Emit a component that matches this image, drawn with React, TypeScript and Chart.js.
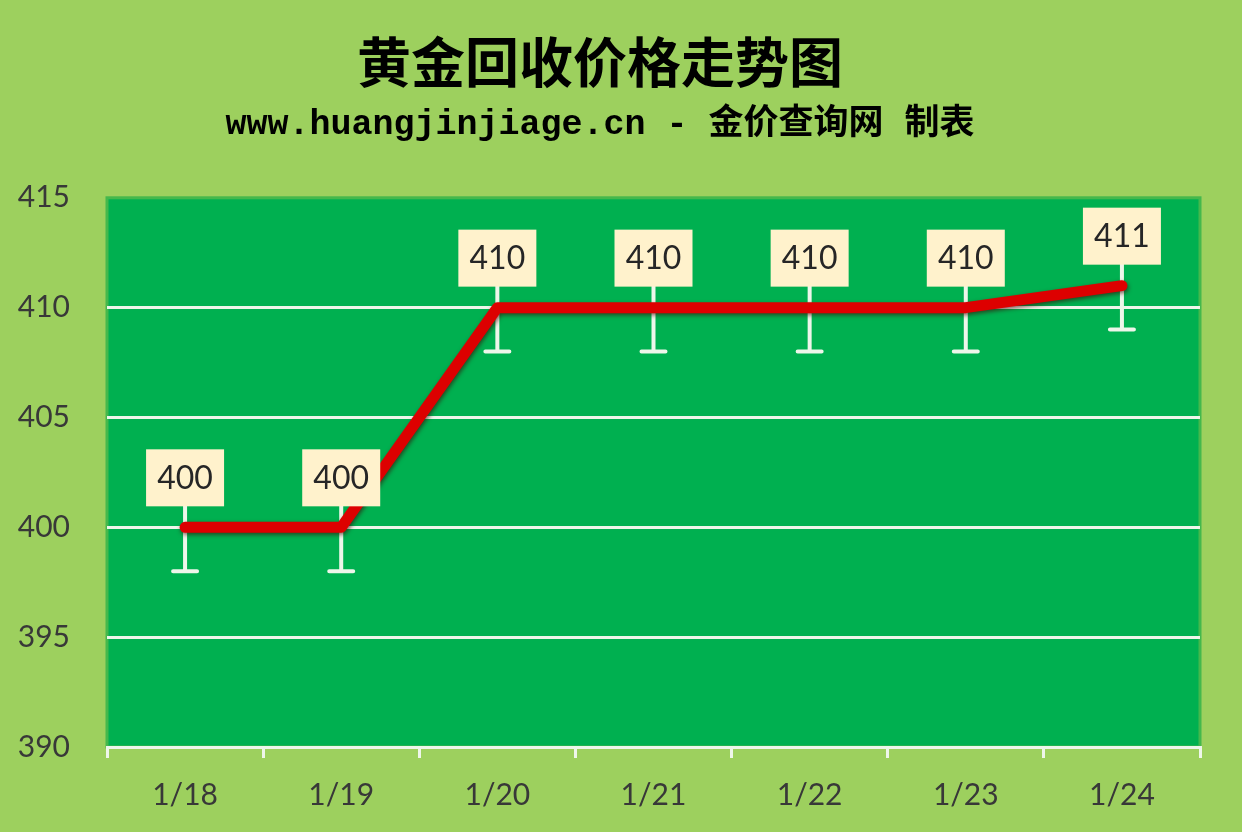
import { useEffect, useRef } from 'react';
import Chart, { ChartConfiguration, Plugin } from 'chart.js/auto';

const dates = ['1/18', '1/19', '1/20', '1/21', '1/22', '1/23', '1/24'];
const prices = [400, 400, 410, 410, 410, 410, 411];
const errorMinus = [2, 2, 2, 2, 2, 2, 2];
const yMin = 390;
const yMax = 415;
const yStep = 5;

const OUTER_BG = '#9DD05E';
const PLOT_BG = '#00B050';
const PLOT_EDGE = '#45B84C';
const WHITE = '#EEF6EA';
const LINE_RED = '#DD0000';
const LABEL_BG = '#FFF2CC';
const TEXT = '#383838';

const plotBackground: Plugin<'line'> = {
  id: 'plotBackground',
  beforeDraw(chart) {
    const { ctx, chartArea: a, width, height } = chart;
    ctx.save();
    ctx.fillStyle = OUTER_BG;
    ctx.fillRect(0, 0, width, height);
    ctx.fillStyle = PLOT_BG;
    ctx.fillRect(a.left, a.top, a.right - a.left, a.bottom - a.top);
    ctx.strokeStyle = PLOT_EDGE;
    ctx.lineWidth = 3;
    ctx.strokeRect(a.left, a.top, a.right - a.left, a.bottom - a.top);
    ctx.restore();
  },
};

// white error bars under the line, with a stem up to the label box
const errorBars: Plugin<'line'> = {
  id: 'errorBars',
  beforeDatasetsDraw(chart) {
    const { ctx } = chart;
    const yScale = chart.scales.y;
    const meta = chart.getDatasetMeta(0);
    ctx.save();
    ctx.strokeStyle = WHITE;
    ctx.lineWidth = 4;
    ctx.lineCap = 'round';
    meta.data.forEach((pt, i) => {
      const x = pt.x;
      const y = pt.y;
      const yLow = yScale.getPixelForValue(prices[i] - errorMinus[i]);
      ctx.beginPath();
      ctx.moveTo(x, y - 22);
      ctx.lineTo(x, yLow);
      ctx.moveTo(x - 12, yLow);
      ctx.lineTo(x + 12, yLow);
      ctx.stroke();
    });
    ctx.restore();
  },
};

const lineShadow: Plugin<'line'> = {
  id: 'lineShadow',
  beforeDatasetDraw(chart) {
    const { ctx } = chart;
    ctx.save();
    ctx.shadowColor = 'rgba(60, 0, 0, 0.6)';
    ctx.shadowBlur = 4;
    ctx.shadowOffsetX = 1;
    ctx.shadowOffsetY = 2;
  },
  afterDatasetDraw(chart) {
    chart.ctx.restore();
  },
};

const valueLabels: Plugin<'line'> = {
  id: 'valueLabels',
  afterDatasetsDraw(chart) {
    const { ctx } = chart;
    const meta = chart.getDatasetMeta(0);
    const w = 78;
    const h = 57;
    ctx.save();
    ctx.font = '32px Lato';
    ctx.textAlign = 'center';
    ctx.textBaseline = 'middle';
    meta.data.forEach((pt, i) => {
      const bottom = pt.y - 21;
      ctx.fillStyle = LABEL_BG;
      ctx.fillRect(pt.x - w / 2, bottom - h, w, h);
      ctx.fillStyle = '#262626';
      ctx.fillText(String(prices[i]), pt.x, bottom - h / 2 + 1);
    });
    ctx.restore();
  },
};

const tickFont = { family: 'Lato', size: 30 };

const getChartConfig = (): ChartConfiguration<'line'> => ({
  type: 'line',
  data: {
    labels: dates,
    datasets: [
      {
        label: '黄金回收价格',
        data: prices,
        borderColor: LINE_RED,
        borderWidth: 11,
        borderCapStyle: 'round',
        borderJoinStyle: 'round',
        tension: 0,
        pointRadius: 0,
        fill: false,
      },
    ],
  },
  options: {
    animation: false,
    responsive: true,
    maintainAspectRatio: false,
    layout: { padding: { left: 0, right: 42, top: 0, bottom: 0 } },
    plugins: {
      legend: { display: false },
      tooltip: { enabled: false },
      title: {
        display: true,
        text: '黄金回收价格走势图',
        color: '#000000',
        font: { family: "'Noto Sans CJK SC'", size: 54, weight: 'bold' },
        padding: { top: 30, bottom: 0 },
      },
      subtitle: {
        display: true,
        text: 'www.huangjinjiage.cn - 金价查询网 制表',
        color: '#000000',
        font: { family: "'Liberation Mono', 'Noto Sans CJK SC', monospace", size: 35, weight: 'bold' },
        padding: { top: 9, bottom: 52 },
      },
    },
    scales: {
      x: {
        offset: true,
        grid: {
          offset: true,
          drawOnChartArea: false,
          drawTicks: true,
          tickLength: 11,
          color: WHITE,
          lineWidth: 3,
        },
        border: { display: true, color: WHITE, width: 3 },
        ticks: { color: TEXT, font: tickFont, padding: 19 },
        afterFit: (scale) => {
          scale.height = 85;
        },
      },
      y: {
        min: yMin,
        max: yMax,
        grid: {
          drawTicks: false,
          lineWidth: 3,
          color: (ctx) =>
            ctx.tick && (ctx.tick.value === yMax || ctx.tick.value === yMin) ? 'rgba(0,0,0,0)' : WHITE,
        },
        border: { display: false },
        ticks: { stepSize: yStep, color: TEXT, font: tickFont, padding: 37 },
        afterFit: (scale) => {
          scale.width = 107;
        },
      },
    },
  },
  plugins: [plotBackground, errorBars, lineShadow, valueLabels],
});

const App = () => {
  const canvasRef = useRef<HTMLCanvasElement>(null);
  const chartRef = useRef<Chart<'line'> | null>(null);

  useEffect(() => {
    const canvas = canvasRef.current;
    if (!canvas) return;
    chartRef.current?.destroy();
    chartRef.current = new Chart(canvas, getChartConfig());
    return () => {
      chartRef.current?.destroy();
      chartRef.current = null;
    };
  }, []);

  return (
    <div style={{ position: 'absolute', left: 0, top: 0, width: 1242, height: 832, background: OUTER_BG }}>
      <canvas ref={canvasRef} />
    </div>
  );
};

export default App;
